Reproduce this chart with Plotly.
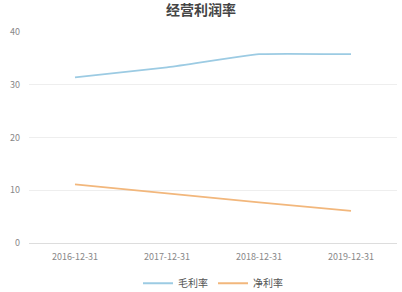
import plotly.graph_objects as go

categories = ["2016-12-31", "2017-12-31", "2018-12-31", "2019-12-31"]
gross_margin = [31.4, 33.3, 35.8, 35.8]
net_margin = [11.1, 9.4, 7.7, 6.1]
series_names = ["毛利率", "净利率"]
y_ticks = [0, 10, 20, 30, 40]

font_family = "Noto Sans CJK SC, Noto Sans, sans-serif"

fig = go.Figure()
fig.add_trace(go.Scatter(x=categories, y=gross_margin, name=series_names[0], mode="lines",
                         line=dict(color="#9ccbe3", width=1.8, shape="spline", smoothing=0.35)))
fig.add_trace(go.Scatter(x=categories, y=net_margin, name=series_names[1], mode="lines",
                         line=dict(color="#f2b77c", width=1.8, shape="spline", smoothing=0.35)))

fig.update_layout(
    width=402, height=292,
    margin=dict(l=29, r=5, t=32, b=49, autoexpand=False),
    paper_bgcolor="white", plot_bgcolor="white",
    font=dict(family=font_family, color="#888888", size=9),
    title=dict(text="<b>经营利润率</b>", x=0.5, xanchor="center", y=0.965, yanchor="middle",
               font=dict(size=14, color="#444444", family=font_family)),
    showlegend=True,
    legend=dict(orientation="h", x=0.5, xanchor="center", yref="container", y=0.03, yanchor="middle",
                font=dict(size=10, color="#555555")),
    xaxis=dict(type="category", range=[-0.5, 3.5], showgrid=False, showline=True,
               linecolor="#dddddd", linewidth=1, ticks="", tickfont=dict(size=9, color="#888888"),
               zeroline=False, fixedrange=True, ticklabelstandoff=5),
    yaxis=dict(range=[0, 40], tickvals=y_ticks, showgrid=True, gridcolor="#eeeeee",
               zeroline=False, showline=False, ticks="", tickfont=dict(size=9, color="#888888"),
               ticklabelstandoff=8),
)

fig.write_html("out.html")
